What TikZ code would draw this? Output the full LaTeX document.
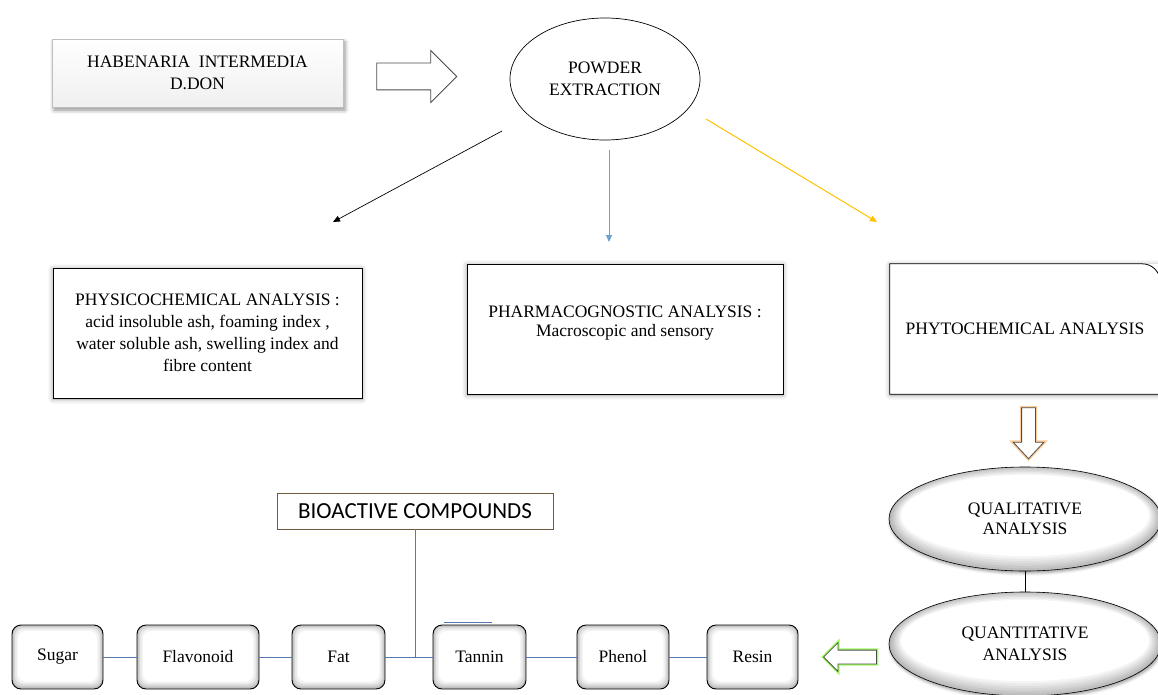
\documentclass[tikz,border=0pt]{standalone}
\usepackage{fontspec}
\setmainfont{Liberation Serif}
\newfontfamily\calfont{Carlito}
\usetikzlibrary{shapes.geometric,shapes.arrows,shadows.blur,arrows.meta}
\definecolor{linkblue}{RGB}{84,120,175}
\definecolor{arrblue}{RGB}{110,160,205}
\definecolor{arrgold}{RGB}{255,192,0}
\definecolor{bioframe}{RGB}{110,90,60}

\newcommand{\bevelbox}{%
  \foreach \a/\b/\c in {0/0/50,1.5/2.5/32,3/4.5/18,4.5/6/8,6/7.5/0}
    \fill[gray!\c,rounded corners=8pt] ([shift={(\a pt,\b pt)}]path picture bounding box.south west) rectangle ([shift={(-\a pt,-\a pt)}]path picture bounding box.north east);}
\newcommand{\bevelellipse}{%
  \foreach \i in {0,...,7}{
    \pgfmathsetmacro\rx{136-1.7*\i}\pgfmathsetmacro\ry{54-1.9*\i}
    \pgfmathsetmacro\dy{0.5*\i}\pgfmathsetmacro\c{int(60-8.5*\i)}
    \fill[gray!\c] ([yshift=\dy pt]path picture bounding box.center) ellipse [x radius=\rx pt,y radius=\ry pt];}}

\begin{document}
\begin{tikzpicture}[x=1pt,y=-1pt,
  every node/.style={font=\fontsize{17.5}{22}\selectfont,align=center,inner sep=0pt},
  plainbox/.style={rectangle,draw,line width=0.8pt,fill=white,blur shadow={shadow xshift=0pt,shadow yshift=-1pt,shadow blur radius=5pt,shadow opacity=40}},
  item/.style={rectangle,rounded corners=9pt,draw,line width=0.9pt,minimum height=64pt,path picture={\bevelbox}},
  oval/.style={ellipse,draw,line width=0.6pt,minimum width=272pt,minimum height=104pt,blur shadow={shadow xshift=1pt,shadow yshift=-2pt,shadow blur radius=3pt,shadow opacity=40},path picture={\bevelellipse}},
  hollow/.style={single arrow,draw=gray!60!black,line width=0.8pt,fill=white,inner xsep=0pt,single arrow tip angle=90},
  link/.style={draw=linkblue,line width=0.9pt},
  tip/.style={-{Triangle[length=7pt,width=6pt]}}]
\useasboundingbox (0,0) rectangle (1158,695);

% top row
\node[rectangle,draw=gray!50,top color=white,bottom color=gray!12,minimum width=291pt,minimum height=68pt,
  blur shadow={shadow xshift=2pt,shadow yshift=-3pt,shadow blur radius=4pt,shadow opacity=45}] (plant) at (197.5,73) {HABENARIA~ INTERMEDIA\\D.DON};
\node[hollow,inner ysep=13pt,minimum height=80pt,single arrow head extend=12.5pt] (toext) at (410,76.5) {};
\node[ellipse,draw,line width=0.7pt,minimum width=190pt,minimum height=122pt] (powder) at (605,79) {POWDER\\EXTRACTION};

\coordinate (splitA) at (502,131); \coordinate (toPhys) at (333,222);
\coordinate (splitB) at (609,150); \coordinate (toPharm) at (609,242);
\coordinate (splitC) at (706,119); \coordinate (toPhyto) at (877,222);
\path[tip]
(splitA) edge[draw=black,line width=0.7pt] (toPhys)
(splitB) edge[draw=arrblue,line width=1pt] (toPharm)
(splitC) edge[draw=arrgold,line width=1pt] (toPhyto);

% analyses
\node[plainbox,minimum width=309pt,minimum height=130pt] (physico) at (207.5,333) {PHYSICOCHEMICAL ANALYSIS :\\acid insoluble ash, foaming index ,\\water soluble ash, swelling index and\\fibre content};
\node[plainbox,minimum width=316pt,minimum height=130pt] (pharma) at (625,329) {PHARMACOGNOSTIC ANALYSIS :\\[-3pt]Macroscopic and sensory\\[-6pt]\mbox{}};
\node[rectangle,fill=white,minimum width=270pt,minimum height=130pt,blur shadow={shadow xshift=0pt,shadow yshift=-1pt,shadow blur radius=5pt,shadow opacity=40}] (phyto) at (1025,329) {PHYTOCHEMICAL ANALYSIS};
\draw[line width=0.8pt] (phyto.south east) -- ([yshift=-18pt]phyto.north east) arc[start angle=0,end angle=90,radius=18pt] -- (phyto.north west) -- (phyto.south west) -- cycle;

\node[hollow,preaction={draw=orange!40,line width=3.5pt},rotate=270,inner ysep=6.5pt,minimum height=51pt,single arrow head extend=8.5pt,single arrow tip angle=86] (down) at (1028.5,429.5) {};
\node[oval] (qual) at (1025,519) {QUALITATIVE\\[-2pt]ANALYSIS};
\node[oval] (quant) at (1025,644) {QUANTITATIVE\\ANALYSIS};
\draw[line width=0.8pt] (qual) -- (quant);
\node[hollow,preaction={draw=green!45!lime!60,line width=3.5pt},rotate=180,inner ysep=6.5pt,minimum height=53pt,single arrow head extend=7.5pt] (back) at (853.5,657) {};

% compounds
\node[rectangle,draw=bioframe,line width=0.8pt,fill=white,minimum width=276pt,minimum height=36pt,font=\calfont\fontsize{23}{28}\selectfont] (bio) at (415,511) {BIOACTIVE COMPOUNDS};
\node[item,minimum width=91pt] (sugar) at (57.5,657) {Sugar};
\node[item,minimum width=122pt] (flavonoid) at (198,657) {Flavonoid};
\node[item,minimum width=93pt] (fat) at (338.5,657) {Fat};
\node[item,minimum width=93pt] (tannin) at (479.5,657) {Tannin};
\node[item,minimum width=92pt] (phenol) at (623,657) {Phenol};
\node[item,minimum width=91pt] (resin) at (752.5,657) {Resin};
\foreach \a/\b in {sugar/flavonoid,flavonoid/fat,fat/tannin,tannin/phenol,phenol/resin}
  \draw[link] (\a) -- (\b);
\draw[link] (bio.south) -- (bio.south |- fat.east);
\draw[link] ([shift={(-36pt,2pt)}]tannin.north) -- ([shift={(12pt,2pt)}]tannin.north);
\end{tikzpicture}
\end{document}
